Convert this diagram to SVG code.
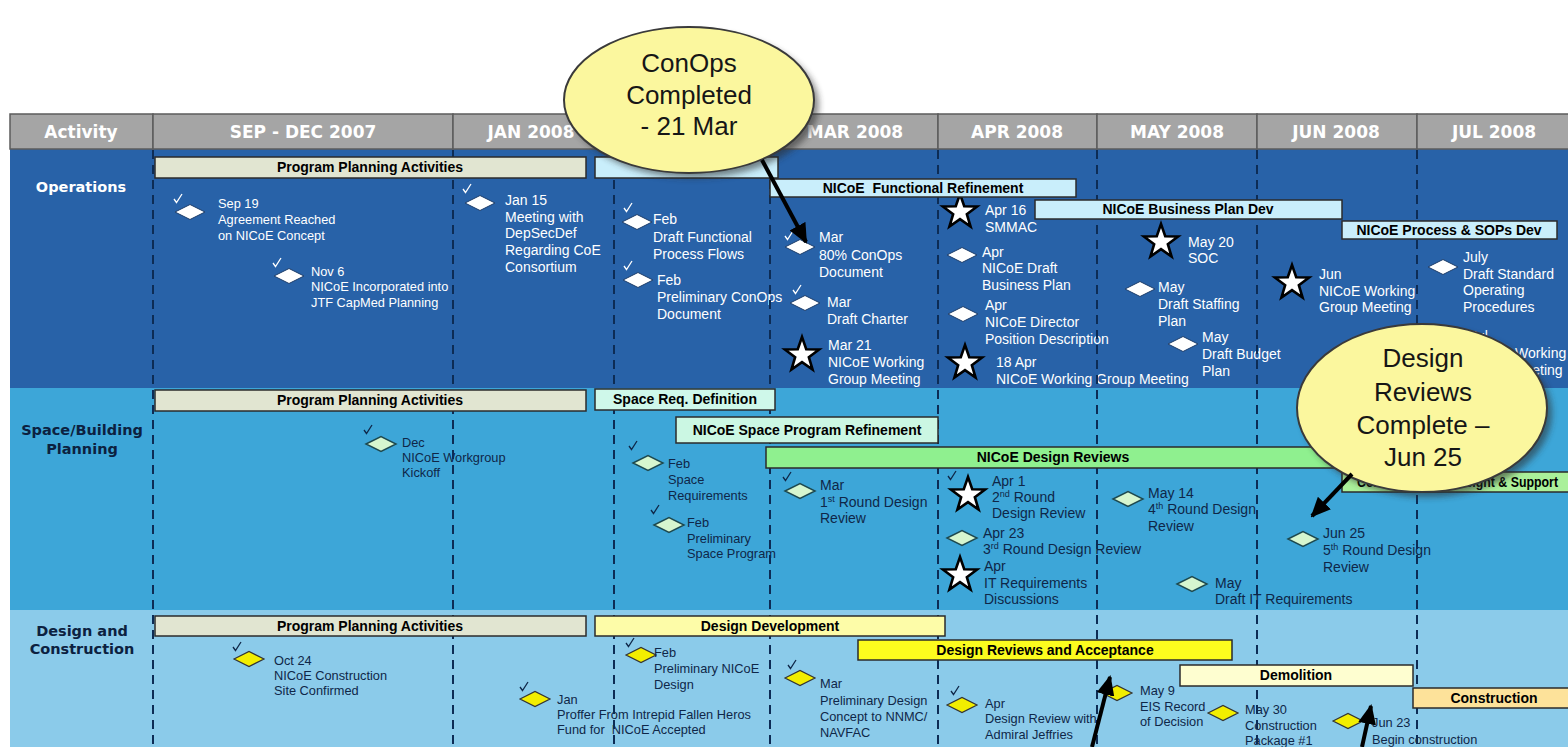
<svg xmlns="http://www.w3.org/2000/svg" xmlns:xlink="http://www.w3.org/1999/xlink" width="1568" height="747" viewBox="0 0 1568 747">
<style>
.hdr{fill:#a5a5a5;stroke:#5c5c5c;stroke-width:1.5}
.ht{font-family:"DejaVu Sans","Liberation Sans",sans-serif;font-weight:bold;font-size:17px;fill:#fff;text-anchor:middle}
.rl{font-family:"DejaVu Sans","Liberation Sans",sans-serif;font-weight:bold;font-size:14.5px;text-anchor:middle}
.dash{stroke:#0d2c55;stroke-width:2;stroke-dasharray:9 6;fill:none}
.bar{stroke:#2b2b2b;stroke-width:1.5}
.bt{font-family:"Liberation Sans",Arial,sans-serif;font-weight:bold;font-size:14px;fill:#000;text-anchor:middle}
.bts{font-family:"Liberation Sans",Arial,sans-serif;font-weight:bold;font-size:14px;fill:#000;text-anchor:start}
.mw{font-family:"Liberation Sans",Arial,sans-serif;font-size:14px;fill:#fff}
.md{font-family:"Liberation Sans",Arial,sans-serif;font-size:14px;fill:#0f2748}
.sm{font-size:12.8px}
.dw{fill:#fff;stroke:#1c3d6a;stroke-width:1}
.dg{fill:#d6f6cf;stroke:#1e4a50;stroke-width:1.5}
.dy{fill:#f2ee00;stroke:#333;stroke-width:1.2}
.st{fill:#fff;stroke:#000;stroke-width:2.6;stroke-linejoin:miter}
.ckw{fill:none;stroke:#fff;stroke-width:1.3}
.ckd{fill:none;stroke:#0f2748;stroke-width:1.3}
.co{fill:#fbf79e;stroke:#3a3a3a;stroke-width:2}
.sh{fill:#2a2a2a;opacity:0.55}
.ct{font-family:"Liberation Sans",Arial,sans-serif;font-size:26px;fill:#161616;text-anchor:middle}
.arr{stroke:#000;stroke-width:4;fill:none}
</style>
<defs>
<path id="star" d="M0,-18 L4.23,-5.82 L17.12,-5.56 L6.85,2.22 L10.58,14.56 L0,7.2 L-10.58,14.56 L-6.85,2.22 L-17.12,-5.56 L-4.23,-5.82 Z"/>
<path id="dia" d="M-15,0 L0,-7.5 L15,0 L0,7.5 Z"/>
<path id="ck" d="M-4,0 L-1.5,3.5 L4,-5"/>
<marker id="ah" markerUnits="userSpaceOnUse" markerWidth="20" markerHeight="18" refX="18" refY="9" orient="auto">
<path d="M0,0 L20,9 L0,18 Z" fill="#000"/>
</marker>
<filter id="blur" x="-20%" y="-20%" width="140%" height="140%"><feGaussianBlur stdDeviation="3"/></filter>
</defs>
<rect x="0" y="0" width="1568" height="747" fill="#fff"/>

<!-- rows -->
<g id="rows">
<rect x="10" y="149" width="1558" height="239" fill="#2862a8"/>
<rect x="10" y="388" width="1558" height="222" fill="#3da6d8"/>
<rect x="10" y="610" width="1558" height="137" fill="#8bcbea"/>
<text class="rl" x="81" y="192" fill="#fff">Operations</text>
<text class="rl" x="82" y="435" fill="#0c2140">Space/Building</text>
<text class="rl" x="82" y="454" fill="#0c2140">Planning</text>
<text class="rl" x="82" y="636" fill="#0c2140">Design and</text>
<text class="rl" x="82" y="654" fill="#0c2140">Construction</text>
</g>

<!-- header -->
<g id="header">
<rect class="hdr" x="10" y="114" width="143" height="35"/>
<rect class="hdr" x="153" y="114" width="300" height="35"/>
<rect class="hdr" x="453" y="114" width="161" height="35"/>
<rect class="hdr" x="614" y="114" width="156" height="35"/>
<rect class="hdr" x="770" y="114" width="168" height="35"/>
<rect class="hdr" x="938" y="114" width="159" height="35"/>
<rect class="hdr" x="1097" y="114" width="160" height="35"/>
<rect class="hdr" x="1257" y="114" width="160" height="35"/>
<rect class="hdr" x="1417" y="114" width="152" height="35"/>
<text class="ht" x="81" y="138">Activity</text>
<text class="ht" x="303" y="138">SEP - DEC 2007</text>
<text class="ht" x="531" y="138">JAN 2008</text>
<text class="ht" x="855" y="138">MAR 2008</text>
<text class="ht" x="1017" y="138">APR 2008</text>
<text class="ht" x="1177" y="138">MAY 2008</text>
<text class="ht" x="1336" y="138">JUN 2008</text>
<text class="ht" x="1494" y="138">JUL 2008</text>
</g>

<!-- Operations milestones -->
<g id="m-sep19"><use href="#dia" class="dw" x="190" y="212"/><use href="#ck" class="ckw" x="178" y="199"/>
<text class="mw sm" x="218"><tspan x="218" y="208">Sep 19</tspan><tspan x="218" y="224">Agreement Reached</tspan><tspan x="218" y="240">on NICoE Concept</tspan></text></g>
<g id="m-nov6"><use href="#dia" class="dw" x="289" y="276"/><use href="#ck" class="ckw" x="277" y="263"/>
<text class="mw sm"><tspan x="311" y="276">Nov 6</tspan><tspan x="311" y="291">NICoE Incorporated into</tspan><tspan x="311" y="307">JTF CapMed Planning</tspan></text></g>
<g id="m-jan15"><use href="#dia" class="dw" x="480" y="203"/><use href="#ck" class="ckw" x="467" y="189"/>
<text class="mw"><tspan x="505" y="205">Jan 15</tspan><tspan x="505" y="222">Meeting with</tspan><tspan x="505" y="238">DepSecDef</tspan><tspan x="505" y="255">Regarding CoE</tspan><tspan x="505" y="272">Consortium</tspan></text></g>
<g id="m-feb-flows"><use href="#dia" class="dw" x="637" y="222"/><use href="#ck" class="ckw" x="628" y="208"/>
<text class="mw"><tspan x="653" y="224">Feb</tspan><tspan x="653" y="242">Draft Functional</tspan><tspan x="653" y="259">Process Flows</tspan></text></g>
<g id="m-feb-conops"><use href="#dia" class="dw" x="638" y="280"/><use href="#ck" class="ckw" x="628" y="266"/>
<text class="mw"><tspan x="657" y="285">Feb</tspan><tspan x="657" y="302">Preliminary ConOps</tspan><tspan x="657" y="319">Document</tspan></text></g>
<g id="m-mar-conops"><use href="#dia" class="dw" x="800" y="247"/><use href="#ck" class="ckw" x="789" y="236"/>
<text class="mw"><tspan x="819" y="242">Mar</tspan><tspan x="819" y="260">80% ConOps</tspan><tspan x="819" y="277">Document</tspan></text></g>
<g id="m-mar-charter"><use href="#dia" class="dw" x="805" y="303"/><use href="#ck" class="ckw" x="797" y="290"/>
<text class="mw"><tspan x="827" y="307">Mar</tspan><tspan x="827" y="324">Draft Charter</tspan></text></g>
<g id="m-mar21"><use href="#star" class="st" x="802" y="355"/>
<text class="mw"><tspan x="828" y="350">Mar 21</tspan><tspan x="828" y="367">NICoE Working</tspan><tspan x="828" y="384">Group Meeting</tspan></text></g>
<g id="m-apr16"><use href="#star" class="st" x="960" y="212"/>
<text class="mw"><tspan x="985" y="215">Apr 16</tspan><tspan x="985" y="232">SMMAC</tspan></text></g>
<g id="m-apr-bp"><use href="#dia" class="dw" x="962" y="255"/>
<text class="mw"><tspan x="982" y="257">Apr</tspan><tspan x="982" y="273">NICoE Draft</tspan><tspan x="982" y="290">Business Plan</tspan></text></g>
<g id="m-apr-dir"><use href="#dia" class="dw" x="963" y="314"/>
<text class="mw"><tspan x="985" y="310">Apr</tspan><tspan x="985" y="327">NICoE Director</tspan><tspan x="985" y="344">Position Description</tspan></text></g>
<g id="m-18apr"><use href="#star" class="st" x="965" y="363"/>
<text class="mw"><tspan x="996" y="367">18 Apr</tspan><tspan x="996" y="384">NICoE Working Group Meeting</tspan></text></g>
<g id="m-may20"><use href="#star" class="st" x="1161" y="242"/>
<text class="mw"><tspan x="1188" y="247">May 20</tspan><tspan x="1188" y="263">SOC</tspan></text></g>
<g id="m-may-staff"><use href="#dia" class="dw" x="1140" y="289"/>
<text class="mw"><tspan x="1158" y="292">May</tspan><tspan x="1158" y="309">Draft Staffing</tspan><tspan x="1158" y="326">Plan</tspan></text></g>
<g id="m-may-budget"><use href="#dia" class="dw" x="1183" y="344"/>
<text class="mw"><tspan x="1202" y="342">May</tspan><tspan x="1202" y="359">Draft Budget</tspan><tspan x="1202" y="376">Plan</tspan></text></g>
<g id="m-jun-wg"><use href="#star" class="st" x="1292" y="283"/>
<text class="mw"><tspan x="1319" y="279">Jun</tspan><tspan x="1319" y="296">NICoE Working</tspan><tspan x="1319" y="312">Group Meeting</tspan></text></g>
<g id="m-july-sop"><use href="#dia" class="dw" x="1443" y="267"/>
<text class="mw"><tspan x="1463" y="262">July</tspan><tspan x="1463" y="279">Draft Standard</tspan><tspan x="1463" y="295">Operating</tspan><tspan x="1463" y="312">Procedures</tspan></text></g>
<g id="m-jul-wg">
<text class="mw"><tspan x="1470" y="341">Jul</tspan><tspan x="1470" y="358">NICoE Working</tspan><tspan x="1470" y="375">Group Meeting</tspan></text></g>

<!-- Space milestones -->
<g id="s-dec"><use href="#dia" class="dg" x="381" y="444"/><use href="#ck" class="ckd" x="368" y="430"/>
<text class="md sm"><tspan x="402" y="447">Dec</tspan><tspan x="402" y="462">NICoE Workgroup</tspan><tspan x="402" y="477">Kickoff</tspan></text></g>
<g id="s-feb-req"><use href="#dia" class="dg" x="648" y="463"/><use href="#ck" class="ckd" x="633" y="446"/>
<text class="md sm"><tspan x="668" y="468">Feb</tspan><tspan x="668" y="484">Space</tspan><tspan x="668" y="500">Requirements</tspan></text></g>
<g id="s-feb-prog"><use href="#dia" class="dg" x="669" y="525"/><use href="#ck" class="ckd" x="655" y="510"/>
<text class="md sm"><tspan x="687" y="527">Feb</tspan><tspan x="687" y="543">Preliminary</tspan><tspan x="687" y="558">Space Program</tspan></text></g>
<g id="s-mar-1st"><use href="#dia" class="dg" x="800" y="491"/><use href="#ck" class="ckd" x="787" y="477"/>
<text class="md"><tspan x="820" y="490">Mar</tspan><tspan x="820" y="507">1<tspan font-size="9" dy="-5">st</tspan><tspan dy="5"> Round Design</tspan></tspan><tspan x="820" y="523">Review</tspan></text></g>
<g id="s-apr1"><use href="#star" class="st" x="968" y="495"/><use href="#ck" class="ckd" x="952" y="476"/>
<text class="md"><tspan x="992" y="486">Apr 1</tspan><tspan x="992" y="502">2<tspan font-size="9" dy="-5">nd</tspan><tspan dy="5"> Round</tspan></tspan><tspan x="992" y="518">Design Review</tspan></text></g>
<g id="s-apr23"><use href="#dia" class="dg" x="962" y="538"/>
<text class="md"><tspan x="983" y="538">Apr 23</tspan><tspan x="983" y="554">3<tspan font-size="9" dy="-5">rd</tspan><tspan dy="5"> Round Design Review</tspan></tspan></text></g>
<g id="s-apr-it"><use href="#star" class="st" x="960" y="575"/>
<text class="md"><tspan x="984" y="571">Apr</tspan><tspan x="984" y="588">IT Requirements</tspan><tspan x="984" y="604">Discussions</tspan></text></g>
<g id="s-may14"><use href="#dia" class="dg" x="1128" y="499"/>
<text class="md"><tspan x="1148" y="498">May 14</tspan><tspan x="1148" y="514">4<tspan font-size="9" dy="-5">th</tspan><tspan dy="5"> Round Design</tspan></tspan><tspan x="1148" y="531">Review</tspan></text></g>
<g id="s-jun25"><use href="#dia" class="dg" x="1303" y="539"/>
<text class="md"><tspan x="1323" y="538">Jun 25</tspan><tspan x="1323" y="555">5<tspan font-size="9" dy="-5">th</tspan><tspan dy="5"> Round Design</tspan></tspan><tspan x="1323" y="572">Review</tspan></text></g>
<g id="s-may-it"><use href="#dia" class="dg" x="1192" y="584"/>
<text class="md"><tspan x="1215" y="588">May</tspan><tspan x="1215" y="604">Draft IT Requirements</tspan></text></g>

<!-- Design milestones -->
<g id="d-oct24"><use href="#dia" class="dy" x="249" y="659"/><use href="#ck" class="ckd" x="237" y="647"/>
<text class="md sm"><tspan x="274" y="665">Oct 24</tspan><tspan x="274" y="680">NICoE Construction</tspan><tspan x="274" y="695">Site Confirmed</tspan></text></g>
<g id="d-feb"><use href="#dia" class="dy" x="641" y="655"/><use href="#ck" class="ckd" x="630" y="643"/>
<text class="md sm"><tspan x="654" y="657">Feb</tspan><tspan x="654" y="673">Preliminary NICoE</tspan><tspan x="654" y="689">Design</tspan></text></g>
<g id="d-jan"><use href="#dia" class="dy" x="535" y="699"/><use href="#ck" class="ckd" x="524" y="687"/>
<text class="md sm"><tspan x="557" y="704">Jan</tspan><tspan x="557" y="719">Proffer From Intrepid Fallen Heros</tspan><tspan x="557" y="734" xml:space="preserve">Fund for  NICoE Accepted</tspan></text></g>
<g id="d-mar"><use href="#dia" class="dy" x="800" y="678"/><use href="#ck" class="ckd" x="792" y="665"/>
<text class="md sm"><tspan x="820" y="688">Mar</tspan><tspan x="820" y="705">Preliminary Design</tspan><tspan x="820" y="721">Concept to NNMC/</tspan><tspan x="820" y="737">NAVFAC</tspan></text></g>
<g id="d-apr"><use href="#dia" class="dy" x="962" y="705"/><use href="#ck" class="ckd" x="955" y="691"/>
<text class="md sm"><tspan x="985" y="708">Apr</tspan><tspan x="985" y="723">Design Review with</tspan><tspan x="985" y="739">Admiral Jeffries</tspan></text></g>
<g id="d-may9"><use href="#dia" class="dy" x="1117" y="693"/>
<text class="md sm"><tspan x="1140" y="695">May 9</tspan><tspan x="1140" y="711">EIS Record</tspan><tspan x="1140" y="726">of Decision</tspan></text></g>
<g id="d-may30"><use href="#dia" class="dy" x="1223" y="713"/>
<text class="md sm"><tspan x="1245" y="714">May 30</tspan><tspan x="1245" y="730">Construction</tspan><tspan x="1245" y="745">Package #1</tspan></text></g>
<g id="d-jun23"><use href="#dia" class="dy" x="1348" y="721"/>
<text class="md sm"><tspan x="1372" y="727">Jun 23</tspan><tspan x="1372" y="744">Begin construction</tspan></text></g>

<!-- month dividers -->
<g id="grid">
<line class="dash" x1="153" y1="150" x2="153" y2="747"/>
<line class="dash" x1="453" y1="150" x2="453" y2="747"/>
<line class="dash" x1="614" y1="150" x2="614" y2="747"/>
<line class="dash" x1="770" y1="150" x2="770" y2="747"/>
<line class="dash" x1="938" y1="150" x2="938" y2="747"/>
<line class="dash" x1="1097" y1="150" x2="1097" y2="747"/>
<line class="dash" x1="1257" y1="150" x2="1257" y2="747"/>
<line class="dash" x1="1417" y1="150" x2="1417" y2="747"/>
</g>

<!-- Activity bars -->
<g id="b-ops-ppa"><rect class="bar" x="155" y="157" width="431" height="21" fill="#e1e5d1"/><text class="bt" x="370" y="172">Program Planning Activities</text></g>
<g id="b-ops-conops"><rect class="bar" x="595" y="157" width="183" height="21" fill="#c9eefb"/></g>
<g id="b-ops-func"><rect class="bar" x="770" y="179" width="306" height="18" fill="#c9eefb"/><text class="bt" x="923" y="193" xml:space="preserve">NICoE  Functional Refinement</text></g>
<g id="b-ops-bp"><rect class="bar" x="1035" y="200" width="307" height="19" fill="#c9eefb"/><text class="bt" x="1188" y="214">NICoE Business Plan Dev</text></g>
<g id="b-ops-sop"><rect class="bar" x="1342" y="221" width="215" height="18" fill="#c9eefb"/><text class="bt" x="1449" y="235">NICoE Process &amp; SOPs Dev</text></g>

<g id="b-sp-ppa"><rect class="bar" x="155" y="390" width="431" height="21" fill="#e1e5d1"/><text class="bt" x="370" y="405">Program Planning Activities</text></g>
<g id="b-sp-req"><rect class="bar" x="595" y="389" width="180" height="21" fill="#cff8ea"/><text class="bt" x="685" y="404">Space Req. Definition</text></g>
<g id="b-sp-prog"><rect class="bar" x="676" y="417" width="262" height="26" fill="#cbf7e3"/><text class="bt" x="807" y="435">NICoE Space Program Refinement</text></g>
<g id="b-sp-dr"><rect class="bar" x="766" y="447" width="580" height="21" fill="#8ff08f"/><text class="bt" x="1053" y="462">NICoE Design Reviews</text></g>
<g id="b-sp-cms"><rect class="bar" x="1342" y="472" width="230" height="20" fill="#aaf09a"/><text class="bts" x="1357" y="487" textLength="201" lengthAdjust="spacingAndGlyphs">Construction Oversight &amp; Support</text></g>

<g id="b-dc-ppa"><rect class="bar" x="155" y="616" width="431" height="20" fill="#e1e5d1"/><text class="bt" x="370" y="631">Program Planning Activities</text></g>
<g id="b-dc-dd"><rect class="bar" x="595" y="616" width="350" height="20" fill="#fdfca8"/><text class="bt" x="770" y="631">Design Development</text></g>
<g id="b-dc-dra"><rect class="bar" x="858" y="640" width="374" height="20" fill="#fcfc1e"/><text class="bt" x="1045" y="655">Design Reviews and Acceptance</text></g>
<g id="b-dc-demo"><rect class="bar" x="1180" y="665" width="233" height="21" fill="#fefed0"/><text class="bt" x="1296" y="680">Demolition</text></g>
<g id="b-dc-con"><rect class="bar" x="1413" y="688" width="160" height="20" fill="#fde29a"/><text class="bt" x="1494" y="703">Construction</text></g>

<!-- Callouts -->
<g id="callout-conops">
<ellipse class="sh" cx="694" cy="105" rx="125" ry="73" filter="url(#blur)"/>
<ellipse class="co" cx="689" cy="100" rx="125" ry="73"/>
<text class="ct" x="689" y="72">ConOps</text>
<text class="ct" x="689" y="104">Completed</text>
<text class="ct" x="689" y="135">- 21 Mar</text>
</g>
<g id="callout-design">
<ellipse class="sh" cx="1427" cy="413" rx="125" ry="84" filter="url(#blur)"/>
<ellipse class="co" cx="1422" cy="408" rx="125" ry="84"/>
<text class="ct" x="1423" y="367">Design</text>
<text class="ct" x="1423" y="401">Reviews</text>
<text class="ct" x="1423" y="434">Complete –</text>
<text class="ct" x="1423" y="466">Jun 25</text>
</g>

<!-- Connectors -->
<g id="connectors">
<line class="arr" x1="762" y1="160" x2="806" y2="242" marker-end="url(#ah)"/>
<line class="arr" x1="1352" y1="474" x2="1312" y2="516" marker-end="url(#ah)"/>
<line class="arr" x1="1092" y1="747" x2="1110" y2="677" marker-end="url(#ah)"/>
<line class="arr" x1="1362" y1="747" x2="1371" y2="706" marker-end="url(#ah)"/>
</g>
</svg>
